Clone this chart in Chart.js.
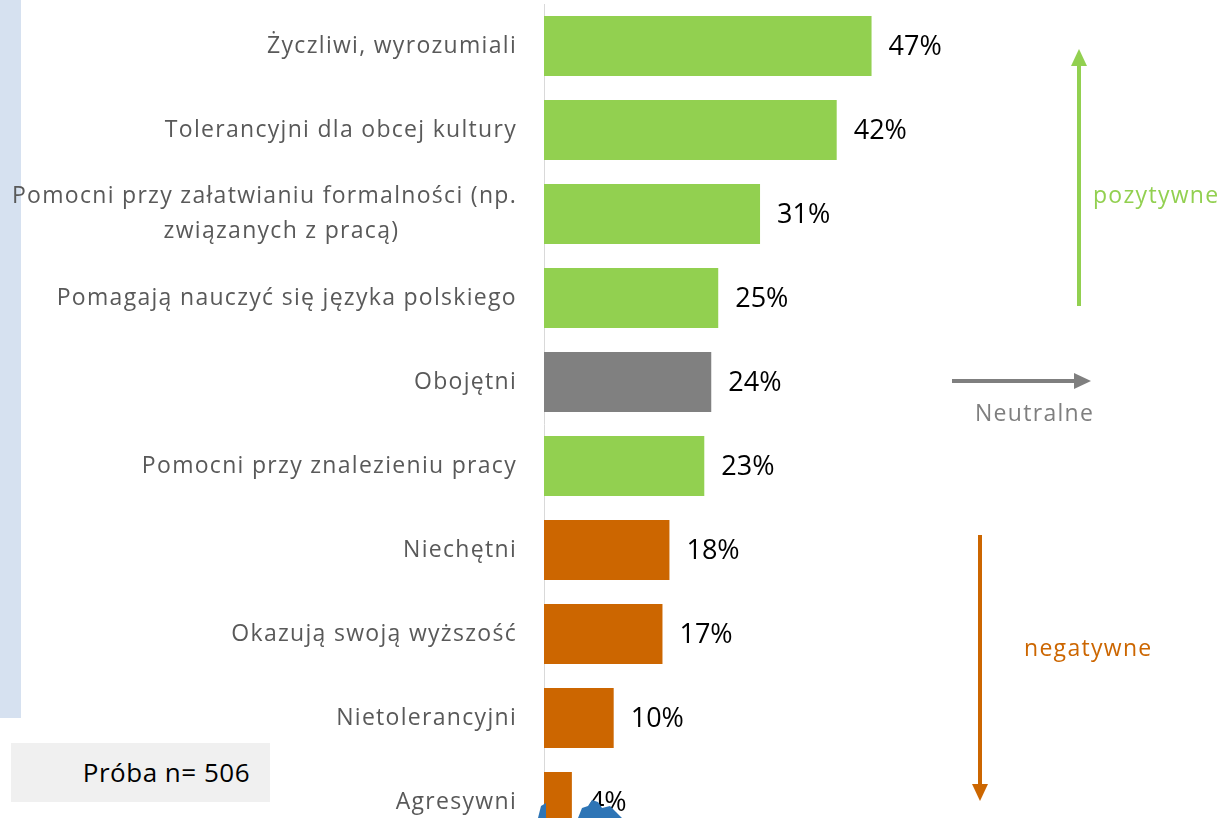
<!DOCTYPE html>
<html>
<head>
<meta charset="utf-8">
<script src="https://cdn.jsdelivr.net/npm/chart.js@4"></script>
<style>
    body { margin: 0; width: 1225px; height: 818px; overflow: hidden; background: #fff; font-family: "Open Sans", sans-serif; position: relative; }
    #wrap { position: absolute; left: 0; top: 0; width: 1225px; height: 860px; }
    .strip { position: absolute; left: 0; top: 0; width: 21px; height: 718px; background: #d6e1f0; }
    .sample { position: absolute; left: 11px; top: 743px; width: 259px; height: 59px; background: #f0f0f0; color: #000; font-size: 26px; letter-spacing: 0.5px; line-height: 59px; text-align: right; box-sizing: border-box; padding-right: 20px; }
    .note { position: absolute; font-size: 23px; letter-spacing: 1.3px; white-space: nowrap; }
    svg { position: absolute; left: 0; top: 0; }
</style>
</head>
<body>
<div class="strip"></div>
<div id="wrap"><canvas id="chart"></canvas></div>
<svg width="1225" height="818">
    <line x1="1079" y1="306" x2="1079" y2="64" stroke="#92d050" stroke-width="4"/>
    <polygon points="1079,49 1071,66 1087,66" fill="#92d050"/>
    <line x1="952" y1="381" x2="1076" y2="381" stroke="#7f7f7f" stroke-width="4"/>
    <polygon points="1091,381 1074,373 1074,389" fill="#7f7f7f"/>
    <line x1="980" y1="535" x2="980" y2="786" stroke="#cc6600" stroke-width="4"/>
    <polygon points="980,801 972,784 988,784" fill="#cc6600"/>
    <path d="M538,818 L541,806 L546,803 L546,818 Z" fill="#2e75b6"/>
    <path d="M578,818 L582,808 L588,806 L592,800 L598,802 L602,808 L610,806 L616,812 L622,818 Z" fill="#2e75b6"/>
</svg>
<div class="note" style="left:1093px; top:178px; color:#92d050;">pozytywne</div>
<div class="note" style="left:975px; top:396px; color:#7f7f7f;">Neutralne</div>
<div class="note" style="left:1024px; top:631px; color:#cc6600;">negatywne</div>
<div class="sample">Próba n= 506</div>
<script>
// categories, values and colour groups
const categories = [
    'Życzliwi, wyrozumiali',
    'Tolerancyjni dla obcej kultury',
    ['Pomocni przy załatwianiu formalności (np.', 'związanych z pracą)'],
    'Pomagają nauczyć się języka polskiego',
    'Obojętni',
    'Pomocni przy znalezieniu pracy',
    'Niechętni',
    'Okazują swoją wyższość',
    'Nietolerancyjni',
    'Agresywni'
];
const values = [47, 42, 31, 25, 24, 23, 18, 17, 10, 4];
const groups = ['pos', 'pos', 'pos', 'pos', 'neu', 'pos', 'neg', 'neg', 'neg', 'neg'];

const groupColors = { pos: '#92d050', neu: '#808080', neg: '#cc6600' };

// Draws the category names left of the axis (multi-line ones centred on their widest line)
const categoryLabels = {
    id: 'categoryLabels',
    afterDraw(chart) {
        const ctx = chart.ctx;
        const y = chart.scales.y;
        const right = y.right - 27;
        ctx.save();
        ctx.font = '23px "Open Sans"';
        ctx.letterSpacing = '1.3px';
        ctx.fillStyle = '#595959';
        ctx.textBaseline = 'middle';
        categories.forEach((label, i) => {
            const cy = y.getPixelForValue(i);
            if (Array.isArray(label)) {
                const widest = Math.max(...label.map(l => ctx.measureText(l).width));
                ctx.textAlign = 'center';
                const lh = 35;
                label.forEach((line, k) => {
                    const off = k === 0 ? 0 : 17;
                    ctx.fillText(line, right - widest / 2 + off, cy + (k - (label.length - 1) / 2) * lh);
                });
            } else {
                ctx.textAlign = 'right';
                ctx.fillText(label, right, cy);
            }
        });
        ctx.restore();
    }
};

// Writes the percentage after each bar
const valueLabels = {
    id: 'valueLabels',
    afterDatasetsDraw(chart) {
        const ctx = chart.ctx;
        const meta = chart.getDatasetMeta(0);
        ctx.save();
        ctx.font = '27px "Open Sans"';
        ctx.fillStyle = '#000';
        ctx.textAlign = 'left';
        ctx.textBaseline = 'middle';
        meta.data.forEach((bar, i) => {
            ctx.fillText(values[i] + '%', bar.x + 17, bar.y + 1);
        });
        ctx.restore();
    }
};

new Chart(document.getElementById('chart'), {
    type: 'bar',
    data: {
        labels: categories,
        datasets: [{
            data: values,
            backgroundColor: groups.map(g => groupColors[g]),
            categoryPercentage: 1,
            barPercentage: 0.714
        }]
    },
    options: {
        indexAxis: 'y',
        responsive: true,
        maintainAspectRatio: false,
        animation: false,
        layout: { padding: { top: 4, bottom: 16, right: 5, left: 0 } },
        plugins: { legend: { display: false }, tooltip: { enabled: false } },
        scales: {
            x: { display: false, min: 0, max: 97 },
            y: {
                grid: { display: false },
                border: { display: true, color: '#d9d9d9', width: 1 },
                ticks: { display: false },
                afterFit: (scale) => { scale.width = 544; }
            }
        }
    },
    plugins: [categoryLabels, valueLabels]
});
</script>
</body>
</html>
